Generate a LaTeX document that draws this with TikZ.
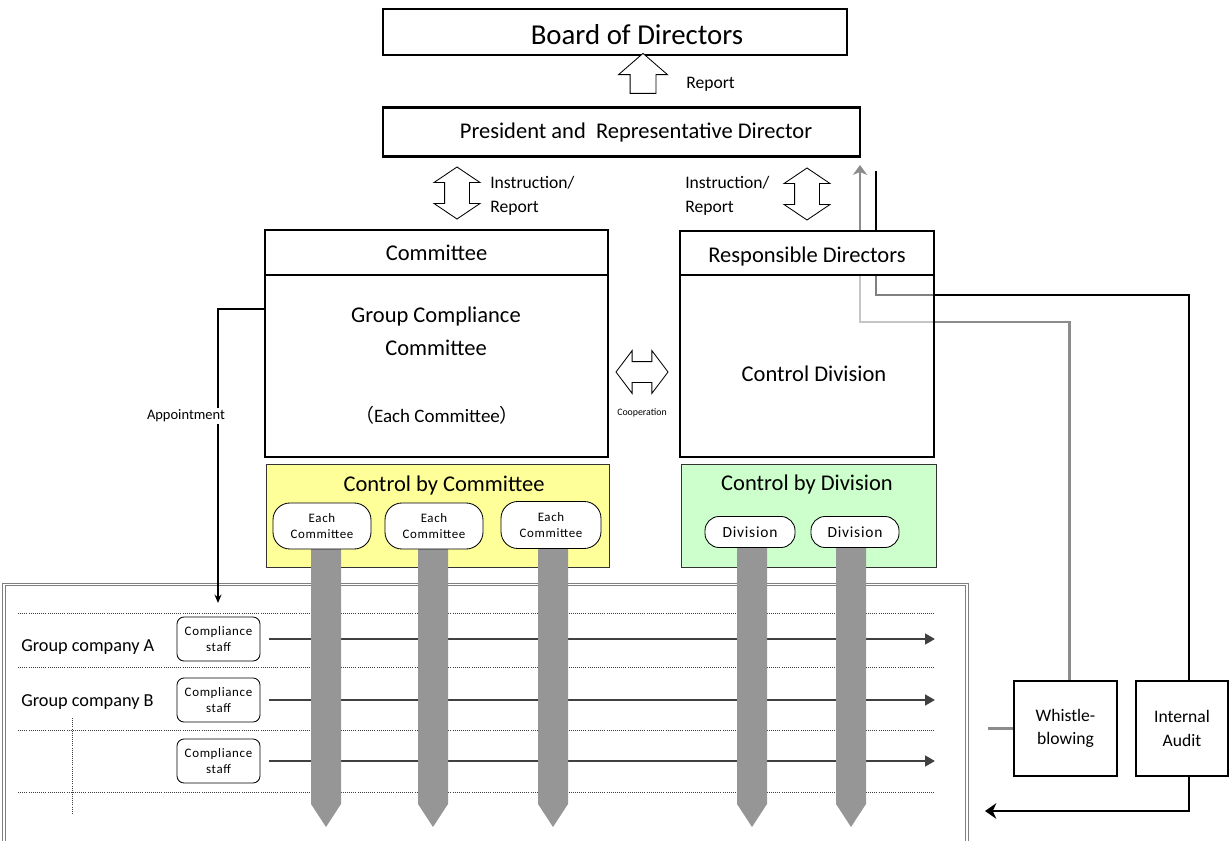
\documentclass[tikz,border=0pt]{standalone}
\usepackage{fontspec}
\setmainfont{Carlito}
\newfontfamily\cjk{Noto Sans CJK JP}
\newfontfamily\spaced[LetterSpace=5]{Carlito}
\usepackage{tikz}
\usetikzlibrary{arrows.meta, positioning, shapes.arrows, calc}
\definecolor{ctrlyellow}{HTML}{FFFF99}
\definecolor{ctrlgreen}{HTML}{CCFFCC}
\definecolor{pillargray}{HTML}{969696}
\definecolor{flowgray}{HTML}{404040}
\definecolor{wbgray}{HTML}{8C8C8C}
\definecolor{framegray}{HTML}{7F7F7F}
\newcommand{\pxu}{0.025cm}
\newcommand{\fs}[2]{\fontsize{#1}{#2}\selectfont}

\begin{document}
\begin{tikzpicture}[x=\pxu, y=-\pxu,
  box/.style={draw, line width=2pt, fill=white, inner sep=0pt},
  thinbox/.style={draw, line width=1.4pt, fill=white, inner sep=0pt, align=center, font=\fs{12.5}{16.5}},
  txt/.style={inner sep=0pt, align=center},
  blk/.style={draw, line width=0.6pt, fill=white, inner xsep=0pt, outer sep=0pt, minimum width=0pt},
  dblarr/.style={blk, double arrow, double arrow head extend=10.5*\pxu, double arrow tip angle=112,
                 minimum height=52*\pxu, inner ysep=12*\pxu},
  ctrl/.style={draw=black!80, line width=0.6pt, inner sep=0pt},
  pill/.style={draw, line width=0.6pt, fill=white, rounded corners=12pt, align=center, inner sep=0pt},
  staff/.style={draw, line width=0.6pt, fill=white, rounded corners=5pt, align=center, inner sep=0pt,
                minimum width=83*\pxu, minimum height=44*\pxu, font=\spaced\fs{9.2}{11.8}},
  flow/.style={flowgray, line width=2pt, -{Triangle[length=7pt,width=7.5pt]}},
  rowline/.style={densely dotted, line width=0.5pt, black!75},
  conn/.style={line width=1.1pt}
]
\useasboundingbox (0,0) rectangle (1230,841);

% top of the chart
\node[box, minimum width=464*\pxu, minimum height=46*\pxu] (BD) at (615,32) {};
\node[txt, font=\fs{20.5}{24}] (BDt) at (637,35) {Board of Directors};
\node[box, minimum width=477*\pxu, minimum height=49*\pxu] (PR) at (621.5,132) {};
\node[txt, font=\fs{16}{20}] (PRt) at (636,133) {President and\ \ Representative Director};
\node[blk, single arrow, rotate=90, single arrow head extend=11.5*\pxu, single arrow tip angle=98,
      minimum height=40*\pxu, inner ysep=12.5*\pxu] (UP) at (643,79) {};
\node[txt, anchor=west, font=\fs{12.5}{15}] (UPt) at (686,84) {Report};

\node[dblarr, rotate=90] (IL) at (457,193) {};
\node[dblarr, rotate=90] (IR) at (807,194) {};
\node[txt, anchor=west, align=left, font=\fs{12.5}{17.5}] (ILt) at (490,196) {Instruction/\\Report};
\node[txt, anchor=west, align=left, font=\fs{12.5}{17.5}] (IRt) at (685,196) {Instruction/\\Report};

% committee side
\node[box, minimum width=343*\pxu, minimum height=45*\pxu, font=\fs{16}{20}] (CM) at (436.5,252.5) {Committee};
\node[box, minimum width=343*\pxu, minimum height=182*\pxu] (CMb) at (436.5,366) {};
\node[txt, font=\fs{16}{23.5}] (CMt) at (436,331) {Group Compliance\\Committee};
\node[txt, font=\fs{13.5}{16}] (CMe) at (437,415) {{\cjk （}Each Committee{\cjk ）}};

\node[blk, double arrow, double arrow head extend=11*\pxu, double arrow tip angle=106,
      minimum height=52*\pxu, inner ysep=10*\pxu] (CO) at (642,372) {};
\node[txt, font=\fs{7}{8}] (COt) at (642,413) {Cooperation};

% group companies
\draw[draw=framegray, line width=0.8pt, double=white, double distance=1pt]
  (4,850) -- (4,584.5) -- (967,584.5) -- (967,850);
\foreach \y in {613,667,730,792}
  \draw[rowline] (18,\y) -- (935,\y);
\draw[rowline] (72,718) -- (72,815);
\node[txt, anchor=west, font=\fs{13}{15}] (GA) at (21,647) {Group company A};
\node[txt, anchor=west, font=\fs{13}{15}] (GB) at (21,702) {Group company B};
\node[staff] (S1) at (218.5,639) {Compliance\\staff};
\node[staff] (S2) at (218.5,700) {Compliance\\staff};
\node[staff] (S3) at (218.5,761) {Compliance\\staff};
\coordinate (flowend) at (935,0);
\foreach \s in {S1,S2,S3}
  \draw[flow, shorten <=6pt] (\s.east) -- (\s.east -| flowend);

\coordinate (apend) at (218,603);
\draw[conn, -{Stealth[length=6pt,width=5pt]}] ([yshift=57*\pxu]CMb.west) -| (apend);
\node[txt, fill=white, inner sep=1.5pt, font=\fs{10.3}{12}] (APt) at (186,416) {Appointment};

% control boxes and pillars
\node[ctrl, fill=ctrlyellow, minimum width=343*\pxu, minimum height=103*\pxu] (CC) at (437.5,515.5) {};
\node[txt, font=\fs{16}{20}] (CCt) at (444,485) {Control by Committee};
\node[ctrl, fill=ctrlgreen, minimum width=255*\pxu, minimum height=103*\pxu] (CD) at (808.5,515.5) {};
\node[txt, font=\fs{16}{20}] (CDt) at (807,484) {Control by Division};
\foreach \x in {326,433,553,752,851}
  \fill[pillargray] (\x-15,540) -- (\x+15,540) -- (\x+15,804) -- (\x,827) -- (\x-15,804) -- cycle;
\node[pill, minimum width=98*\pxu, minimum height=46*\pxu, font=\spaced\fs{9.2}{10.8}] (P1) at (322,526) {Each\\Committee};
\node[pill, minimum width=98*\pxu, minimum height=46*\pxu, font=\spaced\fs{9.2}{10.8}] (P2) at (434,526) {Each\\Committee};
\node[pill, minimum width=100*\pxu, minimum height=47*\pxu, font=\spaced\fs{9.2}{10.8}] (P3) at (551,525) {Each\\Committee};
\node[pill, rounded corners=10pt, minimum width=90*\pxu, minimum height=31*\pxu, font=\spaced\fs{11}{13}] (D1) at (750,532) {Division};
\node[pill, rounded corners=10pt, minimum width=88*\pxu, minimum height=31*\pxu, font=\spaced\fs{11}{13}] (D2) at (855,532) {Division};

% whistle-blowing and internal audit
\node[thinbox, minimum width=103*\pxu, minimum height=95*\pxu] (WB) at (1065.5,728.5) {Whistle-\\blowing};
\node[thinbox, minimum width=92*\pxu, minimum height=95*\pxu] (IA) at (1182,728.5) {Internal\\Audit};
\coordinate (wbtip) at (860,165);
\coordinate (iatop) at (876,171);
\coordinate (wbstub) at (988,728.5);
\coordinate (auend) at (985,811);
\draw[wbgray, line width=1.6pt, -{Stealth[length=7pt,width=10pt,inset=2pt]}]
  ([xshift=4*\pxu]WB.north) |- ($(wbtip)+(0,157)$) -- (wbtip);
\draw[wbgray, line width=1.6pt] (WB.west) -- (wbstub);
\draw[line width=2pt] ([xshift=7*\pxu]IA.north) |- ($(iatop)+(0,124)$) -- (iatop);
\draw[line width=2pt, -{Stealth[length=8pt,width=11pt,inset=2.5pt]}] ([xshift=7*\pxu]IA.south) |- (auend);

% responsible directors (over the lines)
\node[box, minimum width=254*\pxu, minimum height=44*\pxu] (RD) at (807,253) {};
\node[txt, font=\fs{16}{20}] (RDh) at (807,256) {Responsible Directors};
\node[box, fill opacity=0.5, minimum width=254*\pxu, minimum height=182*\pxu] (RDb) at (807,366) {};
\node[txt, font=\fs{16}{20}] (RDt) at (814,374) {Control Division};
\end{tikzpicture}
\end{document}
